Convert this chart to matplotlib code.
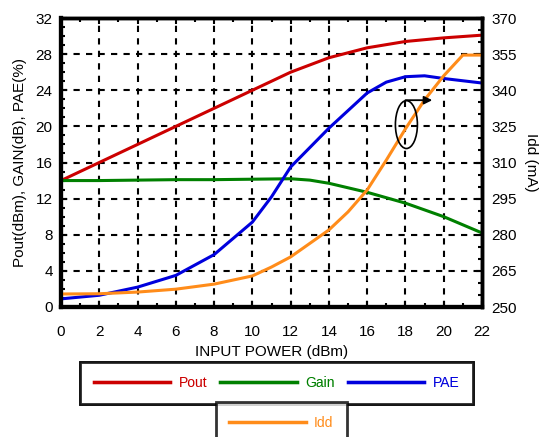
import numpy as np
import matplotlib.pyplot as plt
from matplotlib.patches import Ellipse, FancyArrowPatch
from matplotlib.lines import Line2D

plt.rcParams['font.family'] = ['Liberation Sans', 'DejaVu Sans']

# input power sweep (dBm)
pout_x = [0, 2, 4, 6, 8, 10, 12, 14, 16, 18, 20, 22]
pout_y = [14.0, 16.0, 18.0, 20.0, 22.0, 24.0, 26.0, 27.6, 28.7, 29.4, 29.8, 30.1]

gain_x = [0, 2, 4, 6, 8, 10, 12, 13, 14, 15, 16, 18, 20, 22]
gain_y = [14.0, 14.0, 14.05, 14.1, 14.1, 14.15, 14.2, 14.05, 13.7, 13.2, 12.7, 11.5, 10.0, 8.2]

pae_x = [0, 2, 4, 6, 8, 10, 11, 12, 14, 16, 17, 18, 19, 20, 22]
pae_y = [0.9, 1.3, 2.2, 3.5, 5.8, 9.4, 12.2, 15.5, 19.8, 23.7, 24.9, 25.5, 25.6, 25.3, 24.8]

idd_x = [0, 2, 4, 6, 8, 10, 11, 12, 14, 15, 16, 17, 18, 19, 20, 21, 22]
idd_y = [255.4, 255.5, 256.2, 257.4, 259.5, 262.9, 266.6, 270.8, 282.0, 289.5,
         298.6, 311.0, 324.0, 336.0, 346.0, 354.6, 354.6]

red = "#cc0000"
green = "#008000"
blue = "#0000dd"
orange = "#ff8c1a"

fig = plt.figure(figsize=(5.43, 4.37), dpi=100)
ax = fig.add_axes([61 / 543, 1 - 307 / 437, 421 / 543, 289 / 437])
ax2 = ax.twinx()

ax.plot(pout_x, pout_y, color=red, linewidth=2.2)
ax.plot(gain_x, gain_y, color=green, linewidth=2.2)
ax.plot(pae_x, pae_y, color=blue, linewidth=2.2)
ax2.plot(idd_x, idd_y, color=orange, linewidth=2.2)

ax.set_xlim(0, 22)
ax.set_ylim(0, 32)
ax2.set_ylim(250, 370)
ax.set_xticks(np.arange(0, 23, 2))
ax.set_xticks(np.arange(1, 23, 2), minor=True)
ax.set_yticks(np.arange(0, 33, 4))
ax.set_yticks(np.arange(0, 33, 1), minor=True)
ax2.set_yticks(np.arange(250, 371, 15))
ax2.set_yticks(np.arange(250, 371, 5), minor=True)

ax.grid(True, which="major", color="black", linestyle=(0, (3, 3)), linewidth=1.5)
ax.tick_params(which="both", direction="in", top=True, labelsize=11)
ax.tick_params(axis="x", pad=13)
ax.tick_params(axis="y", pad=6)
ax.tick_params(which="major", length=4, width=1.5)
ax.tick_params(which="minor", length=3, width=1.5)
ax2.tick_params(which="both", direction="in", labelsize=11, pad=7)
ax2.tick_params(which="major", length=4, width=1.5)
ax2.tick_params(which="minor", length=3, width=1.5)
for a in [ax, ax2]:
    a.spines["left"].set_linewidth(3)
    a.spines["bottom"].set_linewidth(3)
    a.spines["top"].set_linewidth(2.5)
    a.spines["right"].set_linewidth(2.5)

ax.set_xlabel("INPUT POWER (dBm)", fontsize=11, labelpad=4)
ax.set_ylabel("Pout(dBm), GAIN(dB), PAE(%)", fontsize=11, labelpad=6)
ax2.set_ylabel("Idd (mA)", fontsize=11, rotation=270, labelpad=15)

# ellipse marking Idd curve with arrow pointing to right axis
ax2.add_patch(Ellipse((18.05, 20.2), 1.15, 5.3, transform=ax.transData,
                      fill=False, edgecolor="black", linewidth=1.2, zorder=5))
ax2.add_patch(FancyArrowPatch((18.0, 22.9), (19.4, 22.9), transform=ax.transData,
                              arrowstyle="-|>", mutation_scale=12, color="black",
                              linewidth=1.3, shrinkA=0, shrinkB=0, zorder=5))

h_pout = Line2D([], [], color=red, linewidth=2.5)
h_gain = Line2D([], [], color=green, linewidth=2.5)
h_pae = Line2D([], [], color=blue, linewidth=2.5)
h_idd = Line2D([], [], color=orange, linewidth=2.5)

leg1 = fig.legend([h_pout, h_gain, h_pae], ["Pout", "Gain", "PAE"], ncol=3,
                  loc="center", bbox_to_anchor=(276.5 / 543, 1 - 383 / 437),
                  frameon=True, fancybox=False, edgecolor="black", handlelength=5.5,
                  handletextpad=0.6, columnspacing=0.95, fontsize=10, borderpad=1.0,
                  labelcolor="linecolor")
leg1.get_frame().set_linewidth(2)
leg2 = fig.legend([h_idd], ["Idd"], loc="upper center",
                  bbox_to_anchor=(281.5 / 543, 1 - 402 / 437), borderaxespad=0,
                  frameon=True, fancybox=False, edgecolor="black", handlelength=5.5,
                  handletextpad=0.6, fontsize=10, borderpad=1.0, labelcolor="linecolor")
leg2.get_frame().set_linewidth(2)
fig.add_artist(leg1)

fig.savefig("out.png", dpi=100)
